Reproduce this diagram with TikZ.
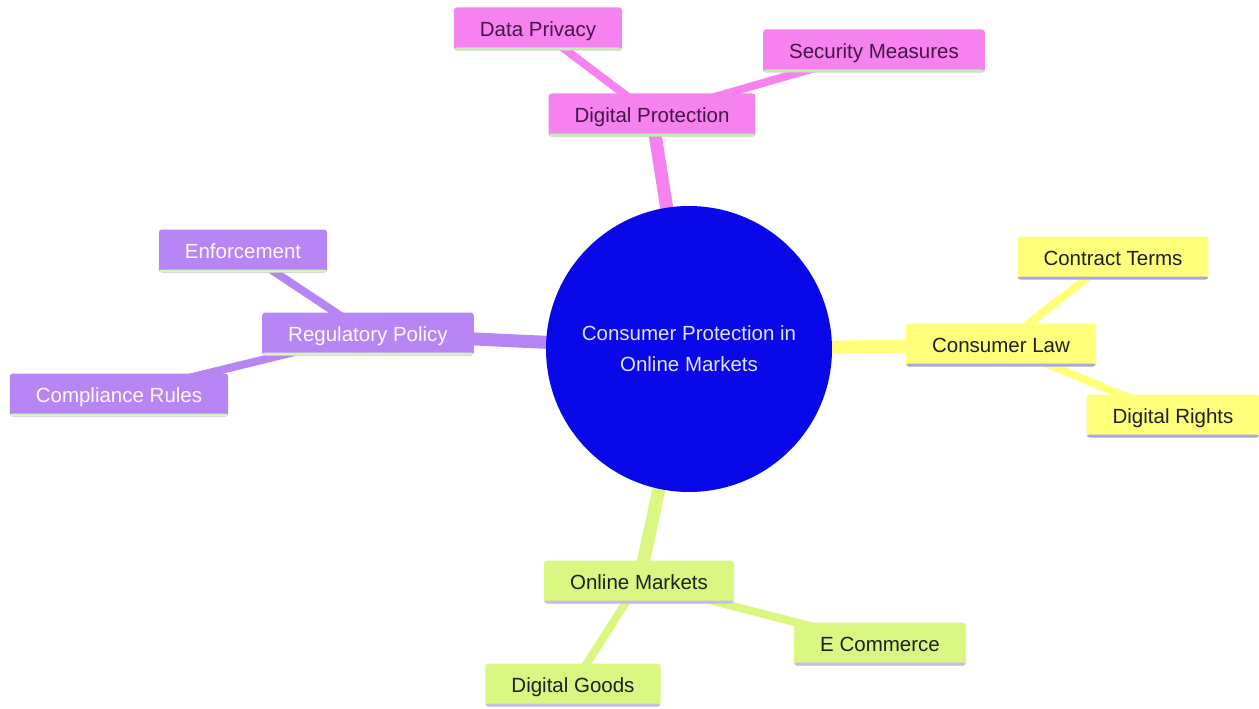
\documentclass[tikz,border=0pt]{standalone}
\usepackage{fontspec}
\setmainfont{Liberation Sans}
\usetikzlibrary{backgrounds}
\definecolor{pinkf}{RGB}{245,130,238}
\definecolor{purplef}{RGB}{184,133,245}
\definecolor{yellowf}{RGB}{255,255,122}
\definecolor{greenf}{RGB}{218,247,130}
\definecolor{pinkl}{RGB}{190,240,180}
\definecolor{purplel}{RGB}{214,244,190}
\definecolor{yellowl}{RGB}{168,168,232}
\definecolor{greenl}{RGB}{200,184,240}
\definecolor{rootf}{RGB}{8,8,232}
\definecolor{pinkt}{RGB}{70,20,70}
\definecolor{roott}{RGB}{225,225,255}
\tikzset{
  box/.style n args={3}{rectangle, rounded corners=3pt, fill=#1, text=#3,
    minimum height=43pt, inner xsep=26pt, inner ysep=0pt,
    text height=19pt, text depth=4.5pt,
    font=\fontsize{20.5}{24}\selectfont,
    path picture={\fill[#2] ([yshift=3pt]path picture bounding box.south west) rectangle (path picture bounding box.south east);}},
  pinkbox/.style={box={pinkf}{pinkl}{pinkt}},
  purplebox/.style={box={purplef}{purplel}{white!95!purplef}},
  yellowbox/.style={box={yellowf}{yellowl}{black!88}},
  greenbox/.style={box={greenf}{greenl}{black!88}},
  mainedge/.style={line width=13pt, draw=#1},
  subedge/.style={line width=8pt, draw=#1},
}
\begin{document}
\begin{tikzpicture}[x=1pt,y=-1pt]
\useasboundingbox (0,0) rectangle (1259,709);
\node[circle, fill=rootf, minimum size=286pt, inner sep=0pt, text=roott, align=center,
  font=\fontsize{20.5}{31}\selectfont] (root) at (689,349) {Consumer Protection in\\Online Markets};
\node[pinkbox] (dp) at (652,115) {Digital Protection};
\node[pinkbox] (priv) at (538,29) {Data Privacy};
\node[pinkbox] (sec) at (874,51) {Security Measures};
\node[purplebox] (reg) at (368,334) {Regulatory Policy};
\node[purplebox] (enf) at (243,251) {Enforcement};
\node[purplebox] (comp) at (119,395) {Compliance Rules};
\node[yellowbox] (law) at (1001,345) {Consumer Law};
\node[yellowbox] (ctr) at (1113,258) {Contract Terms};
\node[yellowbox] (rights) at (1173,416) {Digital Rights};
\node[greenbox] (mkt) at (639,582) {Online Markets};
\node[greenbox] (ecom) at (880,644) {E Commerce};
\node[greenbox] (goods) at (573,685) {Digital Goods};
\begin{scope}[on background layer]
\draw[mainedge=pinkf] (root.center) -- (dp.center);
\draw[mainedge=purplef] (root.center) -- (reg.center);
\draw[mainedge=yellowf] (root.center) -- (law.center);
\draw[mainedge=greenf] (root.center) -- (mkt.center);
\draw[subedge=pinkf] (dp.center) -- (priv.center);
\draw[subedge=pinkf] (dp.center) -- (sec.center);
\draw[subedge=purplef] (reg.center) -- (enf.center);
\draw[subedge=purplef] (reg.center) -- (comp.center);
\draw[subedge=yellowf] (law.center) -- (ctr.center);
\draw[subedge=yellowf] (law.center) -- (rights.center);
\draw[subedge=greenf] (mkt.center) -- (ecom.center);
\draw[subedge=greenf] (mkt.center) -- (goods.center);
\end{scope}
\end{tikzpicture}
\end{document}
